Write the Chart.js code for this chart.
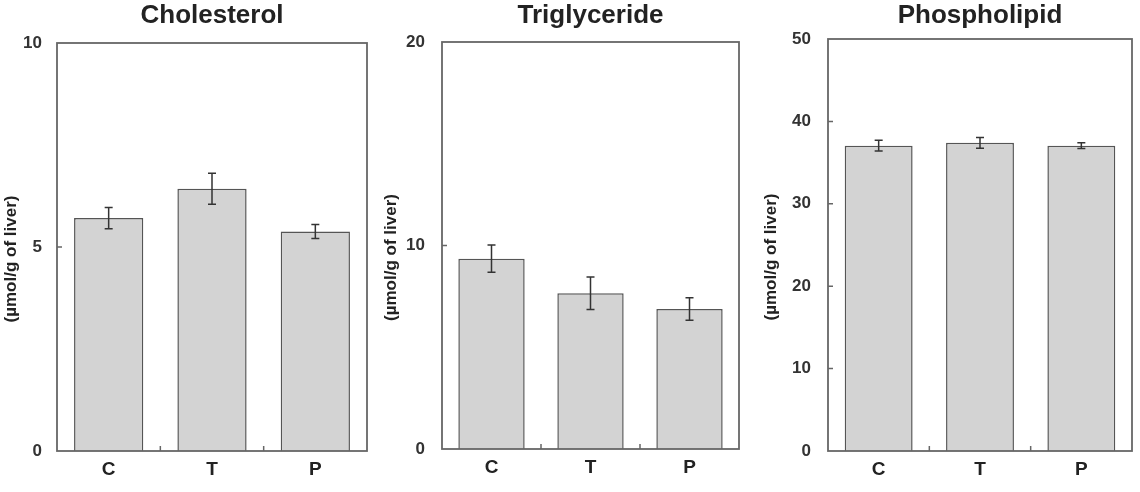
<!DOCTYPE html>
<html>
<head>
<meta charset="utf-8">
<script src="https://cdn.jsdelivr.net/npm/chart.js@4.4.1/dist/chart.umd.min.js"></script>
<style>
    html, body { margin: 0; padding: 0; background: #fff; }
    .panel { position: absolute; top: 0; width: 380px; height: 492px; }
</style>
</head>
<body>
<div class="panel" style="left:0px"><canvas id="cholChart"></canvas></div>
<div class="panel" style="left:380px"><canvas id="trigChart"></canvas></div>
<div class="panel" style="left:760px"><canvas id="phosChart"></canvas></div>
<script>
// data
const groups = ['C', 'T', 'P'];

const cholesterol = [5.71, 6.43, 5.38];
const cholesterolErr = [0.26, 0.38, 0.17];
const cholesterolTicks = [0, 5, 10];

const triglyceride = [9.35, 7.65, 6.88];
const triglycerideErr = [0.67, 0.80, 0.55];
const triglycerideTicks = [0, 10, 20];

const phospholipid = [37.06, 37.4, 37.06];
const phospholipidErr = [0.65, 0.65, 0.35];
const phospholipidTicks = [0, 10, 20, 30, 40, 50];

const yTitle = '(µmol/g of liver)';
const fontFamily = "Arial, 'Liberation Sans', sans-serif";

// error bars, frame, y title and the little inward tick marks
const panelDecor = {
    id: 'panelDecor',
    afterDatasetsDraw(chart) {
        const ctx = chart.ctx;
        const yScale = chart.scales.y;
        const meta = chart.getDatasetMeta(0);
        const errs = chart.options.plugins.panelDecor.errors;
        const values = chart.data.datasets[0].data;
        ctx.save();
        ctx.strokeStyle = '#333';
        ctx.lineWidth = 1.5;
        meta.data.forEach(function(bar, i) {
            const yTop = yScale.getPixelForValue(values[i] + errs[i]);
            const yBot = yScale.getPixelForValue(values[i] - errs[i]);
            ctx.beginPath();
            ctx.moveTo(bar.x, yTop);
            ctx.lineTo(bar.x, yBot);
            ctx.moveTo(bar.x - 4, yTop);
            ctx.lineTo(bar.x + 4, yTop);
            ctx.moveTo(bar.x - 4, yBot);
            ctx.lineTo(bar.x + 4, yBot);
            ctx.stroke();
        });
        ctx.restore();
    },
    afterDraw(chart) {
        const ctx = chart.ctx;
        const area = chart.chartArea;
        const yScale = chart.scales.y;
        const meta = chart.getDatasetMeta(0);
        ctx.save();
        ctx.strokeStyle = '#666';
        ctx.lineWidth = 1.8;
        ctx.strokeRect(area.left, area.top, area.right - area.left, area.bottom - area.top);

        ctx.lineWidth = 1.5;
        ctx.beginPath();
        yScale.ticks.forEach(function(t, i) {
            if (i === 0 || i === yScale.ticks.length - 1) return;
            const y = yScale.getPixelForValue(t.value);
            ctx.moveTo(area.left, y);
            ctx.lineTo(area.left + 5, y);
        });
        for (let i = 0; i < meta.data.length - 1; i++) {
            const x = (meta.data[i].x + meta.data[i + 1].x) / 2;
            ctx.moveTo(x, area.bottom);
            ctx.lineTo(x, area.bottom - 5);
        }
        ctx.stroke();

        // rotated axis title, sitting a bit below the middle like the original
        ctx.translate(11, (area.top + area.bottom) / 2 + 12);
        ctx.rotate(-Math.PI / 2);
        ctx.fillStyle = '#222';
        ctx.font = 'bold 17px ' + fontFamily;
        ctx.textAlign = 'center';
        ctx.textBaseline = 'middle';
        ctx.fillText(yTitle, 0, 0);
        ctx.restore();
    }
};

function makePanel(id, title, values, errs, tickList, geo) {
    return new Chart(document.getElementById(id), {
        type: 'bar',
        data: {
            labels: groups,
            datasets: [{
                data: values,
                backgroundColor: '#d3d3d3',
                borderColor: '#555',
                borderWidth: 1.5,
                barPercentage: 0.67,
                categoryPercentage: 1.0
            }]
        },
        plugins: [panelDecor],
        options: {
            responsive: true,
            maintainAspectRatio: false,
            animation: false,
            layout: {
                padding: { left: 0, right: geo.right, top: 0, bottom: 0 }
            },
            plugins: {
                legend: { display: false },
                tooltip: { enabled: false },
                title: {
                    display: true,
                    text: title,
                    fullSize: false,
                    color: '#222',
                    font: { family: fontFamily, size: 26, weight: 'bold' },
                    padding: { top: 0, bottom: geo.top - 31.2 }
                },
                panelDecor: { errors: errs }
            },
            scales: {
                x: {
                    grid: { display: false, drawTicks: false },
                    border: { display: false },
                    ticks: {
                        color: '#222',
                        padding: 7,
                        font: { family: fontFamily, size: 19, weight: 'bold' }
                    },
                    afterFit: function(scale) { scale.height = geo.bottom; }
                },
                y: {
                    min: tickList[0],
                    max: tickList[tickList.length - 1],
                    afterBuildTicks: function(scale) {
                        scale.ticks = tickList.map(function(v) { return { value: v }; });
                    },
                    grid: { display: false, drawTicks: false },
                    border: { display: false },
                    ticks: {
                        color: '#333',
                        padding: geo.tickPad,
                        font: { family: fontFamily, size: 17, weight: 'bold' }
                    },
                    afterFit: function(scale) { scale.width = geo.left; }
                }
            }
        }
    });
}

makePanel('cholChart', 'Cholesterol', cholesterol, cholesterolErr, cholesterolTicks,
    { left: 57, right: 13, top: 43, bottom: 41, tickPad: 15 });
makePanel('trigChart', 'Triglyceride', triglyceride, triglycerideErr, triglycerideTicks,
    { left: 62, right: 21, top: 42, bottom: 43, tickPad: 17 });
makePanel('phosChart', 'Phospholipid', phospholipid, phospholipidErr, phospholipidTicks,
    { left: 68, right: 8, top: 39, bottom: 41, tickPad: 17 });
</script>
</body>
</html>
